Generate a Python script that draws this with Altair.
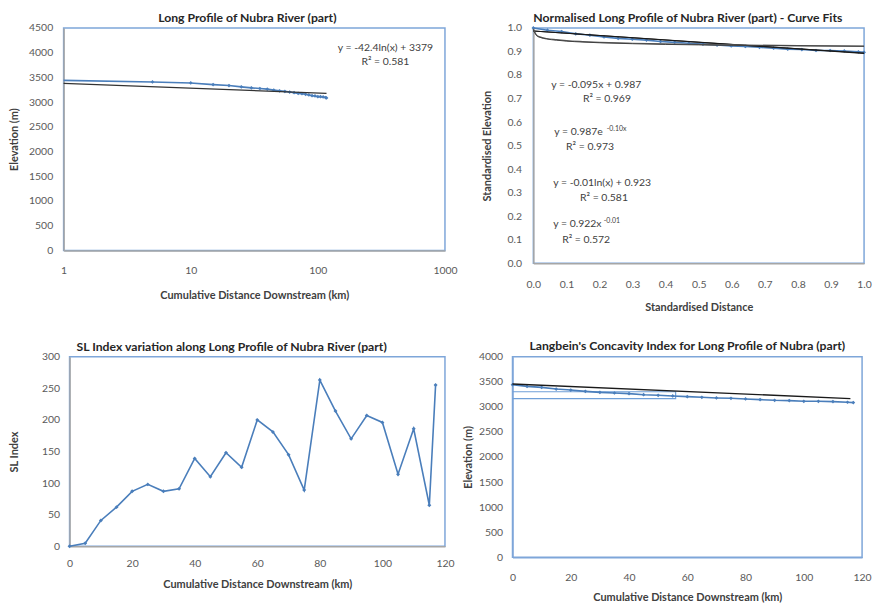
import altair as alt
import pandas as pd

# ---------------- data ----------------
dist_km = [0, 5, 10, 15, 20, 25, 30, 35, 40, 45, 50, 55, 60, 65, 70, 75, 80, 85, 90, 95, 100, 105, 110, 115, 117]
elev_m = [3440, 3407, 3387, 3354, 3334, 3308, 3288, 3275, 3262, 3242, 3229, 3216, 3203, 3190, 3177, 3170,
          3157, 3144, 3130, 3124, 3110, 3110, 3104, 3091, 3084]
sl_index = [0, 5, 41, 62, 87, 98, 87, 91, 139, 110, 148, 125, 200, 181, 145, 89, 263, 214, 170, 207,
            196, 114, 186, 65, 255]

# panel 1 logarithmic trendline (straight on log axis)
logfit_x = [1, 117]
logfit_y = [3379, 3177]

# panel 2 curve fits
linfit_x = [0.0, 1.0]
linfit_y = [0.987, 0.892]
expfit_x = [0.0, 0.5, 1.0]
expfit_y = [0.987, 0.939, 0.893]
curve_x = [0.0, 0.01, 0.02, 0.04, 0.07, 0.1, 0.15, 0.2, 0.3, 0.4, 0.5, 0.6, 0.8, 1.0]
logc_y = [0.995, 0.969, 0.962, 0.955, 0.950, 0.946, 0.942, 0.939, 0.935, 0.932, 0.930, 0.928, 0.925, 0.923]
powc_y = [0.993, 0.967, 0.960, 0.953, 0.948, 0.944, 0.940, 0.937, 0.933, 0.930, 0.928, 0.926, 0.924, 0.922]

# panel 4 Langbein chord and construction box
chord_x = [0, 116]
chord_y = [3455, 3163]
box_x = [0, 56, 56, 0]
box_y = [3300, 3300, 3165, 3165]

# annotations
ann1_text = ["y = -42.4ln(x) + 3379", "R\u00b2 = 0.581"]
ann1_x = [340, 340]
ann1_y = [4098, 3817]

ann2_text = ["y = -0.095x + 0.987", "R\u00b2 = 0.969", "y = 0.987e", "R\u00b2 = 0.973",
             "y = -0.01ln(x) + 0.923", "R\u00b2 = 0.581", "y = 0.922x", "R\u00b2 = 0.572"]
ann2_x = [0.054, 0.150, 0.063, 0.099, 0.060, 0.141, 0.060, 0.087]
ann2_y = [0.757, 0.696, 0.557, 0.494, 0.342, 0.278, 0.165, 0.101]
sup_text = ["-0.10x", "-0.01"]
sup_x = [0.222, 0.213]
sup_y = [0.572, 0.178]

# ---------------- styling ----------------
FONT = "Lato"
BLUE = "#4a7ebb"
BORDER = "#7ea6d9"
GRAY = "#a6a6a6"
LAB = "#595959"
TIT = "#404040"

profile = pd.DataFrame({"dist": dist_km, "elev": elev_m, "sl": sl_index})


def xaxis(title, values, fmt, lpad, tpad, dcol=GRAY):
    return alt.Axis(title=title, values=values, format=fmt, ticks=False, tickSize=0, grid=False,
                    labelFlush=False, domainColor=dcol, domainWidth=1.5, labelFont=FONT,
                    labelFontSize=10.5, labelColor=LAB, labelPadding=lpad, titleFont=FONT,
                    titleFontSize=11, titleFontWeight="bold", titleColor=TIT, titlePadding=tpad)


def yaxis(title, values, fmt, lpad, ext, tpad, dcol=GRAY):
    return alt.Axis(title=title, values=values, format=fmt, ticks=False, tickSize=0, grid=False,
                    labelFlush=False, domainColor=dcol, domainWidth=1.5, labelFont=FONT,
                    labelFontSize=10.5, labelColor=LAB, labelPadding=lpad, minExtent=ext,
                    maxExtent=ext, titleFont=FONT, titleFontSize=11, titleFontWeight="bold",
                    titleColor=TIT, titlePadding=tpad)


def ttl(text, anchor, dx, offset, size=12.3):
    return alt.TitleParams(text=text, font=FONT, fontSize=size, fontWeight="bold", color="#262626",
                           anchor=anchor, dx=dx, offset=offset, frame="group")


# ---------------- panel 1 ----------------
x1 = alt.X("ld:Q", scale=alt.Scale(type="log", domain=[1, 1000], nice=False),
           axis=xaxis("Cumulative Distance Downstream (km)", [1, 10, 100, 1000], "d", 15, 14))
y1 = alt.Y("elev:Q", scale=alt.Scale(domain=[0, 4500], nice=False),
           axis=yaxis("Elevation (m)", list(range(0, 4501, 500)), "d", 11, 40, 4))
b1 = alt.Chart(profile).transform_calculate(ld="max(datum.dist, 1)")
p1_line = b1.mark_line(color=BLUE, strokeWidth=1.6).encode(x=x1, y=y1)
p1_pts = b1.transform_filter("datum.dist > 0").mark_point(shape="diamond", filled=True, size=14,
                                                         color=BLUE, opacity=1).encode(x=x1, y=y1)
p1_fit = alt.Chart(pd.DataFrame({"ld": logfit_x, "elev": logfit_y})).mark_line(
    color="#333333", strokeWidth=1.2).encode(x=x1, y=y1)
p1_txt = alt.Chart(pd.DataFrame({"ld": ann1_x, "elev": ann1_y, "t": ann1_text})).mark_text(
    font=FONT, fontSize=10.5, color=TIT, align="center", baseline="middle").encode(x=x1, y=y1, text="t:N")
p1 = alt.layer(p1_line, p1_pts, p1_fit, p1_txt).properties(
    width=384, height=224, title=ttl("Long Profile of Nubra River (part)", "middle", -7, -1))

# ---------------- panel 2 ----------------
tenths = [round(i / 10, 1) for i in range(11)]
x2 = alt.X("nx:Q", scale=alt.Scale(domain=[0, 1], nice=False),
           axis=xaxis("Standardised Distance", tenths, ".1f", 16, 12))
y2 = alt.Y("ny:Q", scale=alt.Scale(domain=[0, 1], nice=False),
           axis=yaxis("Standardised Elevation", tenths, ".1f", 12, 36, 5))
b2 = alt.Chart(profile).transform_joinaggregate(maxd="max(dist)", maxe="max(elev)").transform_calculate(
    nx="datum.dist / datum.maxd", ny="datum.elev / datum.maxe")
p2_line = b2.mark_line(color=BLUE, strokeWidth=1.6).encode(x=x2, y=y2)
p2_pts = b2.mark_point(shape="diamond", filled=True, size=14, color=BLUE, opacity=1).encode(x=x2, y=y2)
p2_lin = alt.Chart(pd.DataFrame({"nx": linfit_x, "ny": linfit_y})).mark_line(
    color="#1a1a1a", strokeWidth=1.2).encode(x=x2, y=y2)
p2_exp = alt.Chart(pd.DataFrame({"nx": expfit_x, "ny": expfit_y})).mark_line(
    color="#1a1a1a", strokeWidth=1.0).encode(x=x2, y=y2)
p2_log = alt.Chart(pd.DataFrame({"nx": curve_x, "ny": logc_y})).mark_line(
    color="#606060", strokeWidth=1.2, interpolate="monotone").encode(x=x2, y=y2)
p2_pow = alt.Chart(pd.DataFrame({"nx": curve_x, "ny": powc_y})).mark_line(
    color="#404040", strokeWidth=1.0, interpolate="monotone").encode(x=x2, y=y2)
p2_txt = alt.Chart(pd.DataFrame({"nx": ann2_x, "ny": ann2_y, "t": ann2_text})).mark_text(
    font=FONT, fontSize=10.5, color=TIT, align="left", baseline="middle").encode(x=x2, y=y2, text="t:N")
p2_sup = alt.Chart(pd.DataFrame({"nx": sup_x, "ny": sup_y, "t": sup_text})).mark_text(
    font=FONT, fontSize=7, color=TIT, align="left", baseline="middle").encode(x=x2, y=y2, text="t:N")
p2 = alt.layer(p2_line, p2_pts, p2_lin, p2_exp, p2_log, p2_pow, p2_txt, p2_sup).properties(
    width=333, height=237,
    title=ttl("Normalised Long Profile of Nubra River (part) - Curve Fits", "start", 0, -1))

# ---------------- panel 3 ----------------
x3 = alt.X("dist:Q", scale=alt.Scale(domain=[0, 120], nice=False),
           axis=xaxis("Cumulative Distance Downstream (km)", list(range(0, 121, 20)), "d", 12, 10))
y3 = alt.Y("sl:Q", scale=alt.Scale(domain=[0, 300], nice=False),
           axis=yaxis("SL Index", list(range(0, 301, 50)), "d", 10, 45, 5))
b3 = alt.Chart(profile)
p3_line = b3.mark_line(color=BLUE, strokeWidth=1.6).encode(x=x3, y=y3)
p3_pts = b3.mark_point(shape="diamond", filled=True, size=16, color=BLUE, opacity=1).encode(x=x3, y=y3)
p3 = alt.layer(p3_line, p3_pts).properties(
    width=378, height=191,
    title=ttl("SL Index variation along Long Profile of Nubra River (part)", "start", 7, -2))

# small empty gap so panel 3 starts a little right of panel 1
gap = alt.Chart(pd.DataFrame({"g": [0]})).mark_point(opacity=0).encode(
    x=alt.value(0), y=alt.value(0)).properties(
    width=6, height=191, view=alt.ViewBackground(stroke="transparent", strokeWidth=0))

# ---------------- panel 4 ----------------
x4 = alt.X("dist:Q", scale=alt.Scale(domain=[0, 120], nice=False),
           axis=xaxis("Cumulative Distance Downstream (km)", list(range(0, 121, 20)), "d", 15, 9, BORDER))
y4 = alt.Y("elev:Q", scale=alt.Scale(domain=[0, 4000], nice=False),
           axis=yaxis("Elevation (m)", list(range(0, 4001, 500)), "d", 10, 35, 4, BORDER))
b4 = alt.Chart(profile)
p4_box = alt.Chart(pd.DataFrame({"dist": box_x, "elev": box_y, "o": list(range(len(box_x)))})).mark_line(
    color="#6f9fd8", strokeWidth=1.2).encode(x=x4, y=y4, order="o:Q")
p4_line = b4.mark_line(color=BLUE, strokeWidth=1.6).encode(x=x4, y=y4)
p4_pts = b4.mark_point(shape="diamond", filled=True, size=14, color=BLUE, opacity=1).encode(x=x4, y=y4)
p4_chord = alt.Chart(pd.DataFrame({"dist": chord_x, "elev": chord_y})).mark_line(
    color="#1a1a1a", strokeWidth=1.4).encode(x=x4, y=y4)
p4 = alt.layer(p4_box, p4_line, p4_pts, p4_chord).properties(
    width=352, height=202,
    title=ttl("Langbein's Concavity Index for Long Profile of Nubra (part)", "middle", 0, -1))

row1 = alt.hconcat(p1, p2, spacing=23, bounds="full")
left2 = alt.hconcat(gap, p3, spacing=0, bounds="flush")
row2 = alt.hconcat(left2, p4, spacing=7, bounds="full")
chart = alt.vconcat(row1, row2, spacing=25).properties(padding=0).configure_view(
    stroke=BORDER, strokeWidth=1.5)

chart.save("out.html", embed_options={"renderer": "svg", "actions": False})
